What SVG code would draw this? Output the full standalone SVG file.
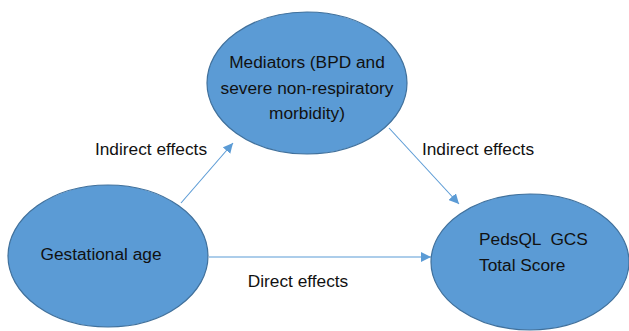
<svg xmlns="http://www.w3.org/2000/svg" width="629" height="331" viewBox="0 0 629 331">
<style>
.node{fill:#5B9BD5;stroke:#41719C;stroke-width:1.2}
.t{font-family:"Liberation Sans",Arial,sans-serif;font-size:17.3px;fill:#111;white-space:pre}
.c{stroke:#5B9BD5;stroke-width:1.1;fill:none}
</style>
<defs>
<marker id="ah" viewBox="0 0 10 10" refX="10" refY="5" markerWidth="10" markerHeight="10" markerUnits="userSpaceOnUse" orient="auto">
<path d="M0,0 L10,5 L0,10 z" fill="#5B9BD5"/>
</marker>
</defs>
<rect width="629" height="331" fill="#fff"/>
<g id="connectors">
<line class="c" x1="181" y1="203" x2="233" y2="143" marker-end="url(#ah)"/>
<line class="c" x1="389" y1="128" x2="459" y2="204" marker-end="url(#ah)"/>
<line class="c" x1="209" y1="257" x2="431" y2="257" marker-end="url(#ah)"/>
<text class="t" x="151" y="155" text-anchor="middle">Indirect effects</text>
<text class="t" x="478" y="155" text-anchor="middle">Indirect effects</text>
<text class="t" x="298" y="287" text-anchor="middle">Direct effects</text>
</g>
<g id="mediators">
<ellipse class="node" cx="307" cy="83" rx="100" ry="71"/>
<text class="t" x="307" y="68" text-anchor="middle">Mediators (BPD and</text>
<text class="t" x="307" y="94" text-anchor="middle">severe non-respiratory</text>
<text class="t" x="307" y="119" text-anchor="middle">morbidity)</text>
</g>
<g id="gestational">
<ellipse class="node" cx="108" cy="256" rx="100" ry="71"/>
<text class="t" x="101" y="260" text-anchor="middle">Gestational age</text>
</g>
<g id="pedsql">
<ellipse class="node" cx="530" cy="262" rx="99" ry="68"/>
<text class="t" x="479" y="245" xml:space="preserve">PedsQL  GCS</text>
<text class="t" x="479" y="271">Total Score</text>
</g>
</svg>
